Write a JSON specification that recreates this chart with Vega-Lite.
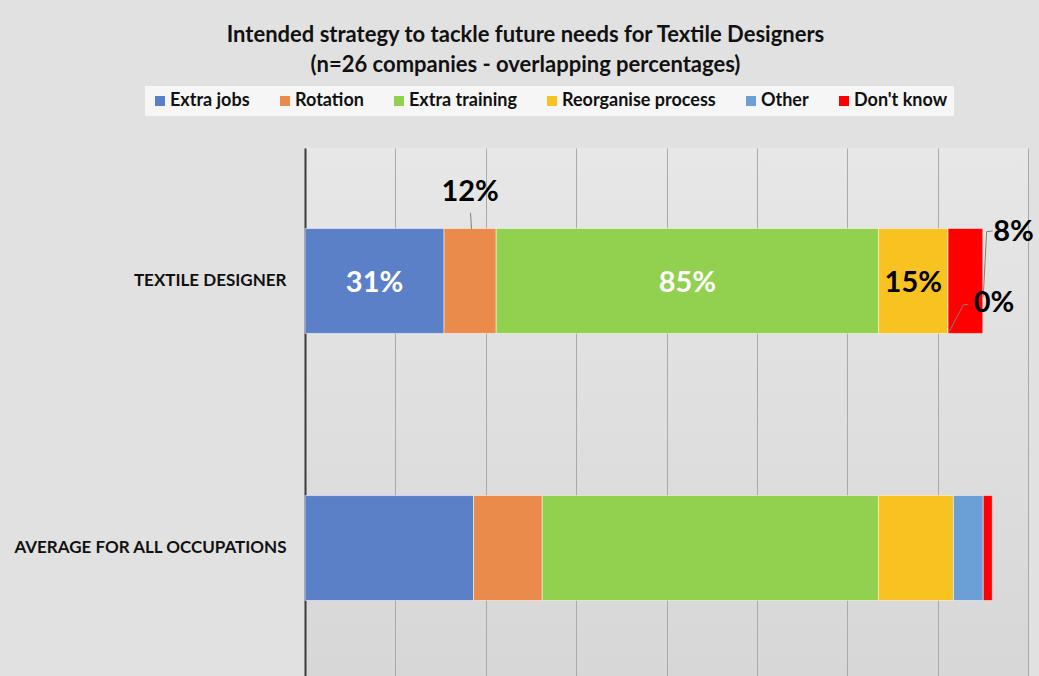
{
  "$schema": "https://vega.github.io/schema/vega-lite/v6.json",
  "width": 723,
  "height": 528,
  "autosize": {"type": "none"},
  "padding": {"left": 305, "top": 148, "right": 11, "bottom": 0},
  "background": "#e1e1e1",
  "config": {
    "view": {
      "stroke": null,
      "fill": {
        "gradient": "linear",
        "x1": 0, "y1": 0, "x2": 0, "y2": 1,
        "stops": [{"offset": 0, "color": "#e7e7e7"}, {"offset": 1, "color": "#d7d7d7"}]
      }
    }
  },
  "title": {
    "text": ["Intended strategy to tackle future needs for Textile Designers", "(n=26 companies - overlapping percentages)"],
    "font": "Lato",
    "fontSize": 22,
    "fontWeight": "bold",
    "color": "#111111",
    "lineHeight": 30,
    "anchor": "middle",
    "dx": -141,
    "offset": 9
  },
  "data": {
    "values": [
      {"occupation": "TEXTILE DESIGNER", "strategy": "Extra jobs", "rank": 1, "value": 0.3077},
      {"occupation": "TEXTILE DESIGNER", "strategy": "Rotation", "rank": 2, "value": 0.1154},
      {"occupation": "TEXTILE DESIGNER", "strategy": "Extra training", "rank": 3, "value": 0.8462},
      {"occupation": "TEXTILE DESIGNER", "strategy": "Reorganise process", "rank": 4, "value": 0.1538},
      {"occupation": "TEXTILE DESIGNER", "strategy": "Other", "rank": 5, "value": 0},
      {"occupation": "TEXTILE DESIGNER", "strategy": "Don't know", "rank": 6, "value": 0.0769},
      {"occupation": "AVERAGE FOR ALL OCCUPATIONS", "strategy": "Extra jobs", "rank": 1, "value": 0.373},
      {"occupation": "AVERAGE FOR ALL OCCUPATIONS", "strategy": "Rotation", "rank": 2, "value": 0.152},
      {"occupation": "AVERAGE FOR ALL OCCUPATIONS", "strategy": "Extra training", "rank": 3, "value": 0.744},
      {"occupation": "AVERAGE FOR ALL OCCUPATIONS", "strategy": "Reorganise process", "rank": 4, "value": 0.166},
      {"occupation": "AVERAGE FOR ALL OCCUPATIONS", "strategy": "Other", "rank": 5, "value": 0.066},
      {"occupation": "AVERAGE FOR ALL OCCUPATIONS", "strategy": "Don't know", "rank": 6, "value": 0.020}
    ]
  },
  "transform": [
    {"stack": "value", "groupby": ["occupation"], "sort": [{"field": "rank", "order": "ascending"}], "as": ["x0", "x1"]}
  ],
  "encoding": {
    "y": {
      "field": "occupation",
      "type": "nominal",
      "sort": ["TEXTILE DESIGNER", "AVERAGE FOR ALL OCCUPATIONS"],
      "scale": {"paddingInner": 0.607, "paddingOuter": 0.292, "align": 0.516},
      "axis": {
        "title": null,
        "ticks": false,
        "domain": true,
        "domainColor": "#3a3a3a",
        "domainWidth": 2,
        "labelFont": "Lato",
        "labelFontSize": 17,
        "labelFontWeight": "bold",
        "labelColor": "#111111",
        "labelPadding": 19,
        "labelLimit": 400
      }
    }
  },
  "layer": [
    {
      "mark": {"type": "bar", "stroke": "#ffffff", "strokeWidth": 1, "strokeOpacity": 0.5},
      "encoding": {
        "x": {
          "field": "x0",
          "type": "quantitative",
          "scale": {"domain": [0, 1.6], "nice": false},
          "axis": {
            "title": null,
            "labels": false,
            "ticks": false,
            "domain": false,
            "grid": true,
            "gridColor": "#a9a9a9",
            "gridWidth": 1,
            "values": [0, 0.2, 0.4, 0.6, 0.8, 1.0, 1.2, 1.4, 1.6]
          }
        },
        "x2": {"field": "x1"},
        "color": {
          "field": "strategy",
          "type": "nominal",
          "sort": ["Extra jobs", "Rotation", "Extra training", "Reorganise process", "Other", "Don't know"],
          "scale": {
            "domain": ["Extra jobs", "Rotation", "Extra training", "Reorganise process", "Other", "Don't know"],
            "range": ["#5b80c8", "#ea8b4c", "#92d050", "#f8c220", "#6aa0d6", "#ff0000"]
          },
          "legend": {
            "title": null,
            "orient": "none",
            "direction": "horizontal",
            "columns": 6,
            "legendX": -160,
            "legendY": -62,
            "fillColor": "#f6f6f6",
            "padding": 6,
            "symbolType": "square",
            "symbolSize": 100,
            "symbolStrokeWidth": 0,
            "labelFont": "Lato",
            "labelFontSize": 18,
            "labelFontWeight": "bold",
            "labelColor": "#111111",
            "labelOffset": 1,
            "columnPadding": 26,
            "labelLimit": 300
          }
        }
      }
    },
    {
      "transform": [
        {"filter": "datum.occupation == 'TEXTILE DESIGNER'"},
        {"fold": ["x0", "x1"], "as": ["edge", "pos"]},
        {"aggregate": [{"op": "mean", "field": "pos", "as": "x0"}], "groupby": ["occupation", "strategy", "value"]}
      ],
      "layer": [
        {
          "transform": [{"filter": "datum.strategy == 'Extra jobs' || datum.strategy == 'Extra training' || datum.strategy == 'Reorganise process'"}],
          "mark": {"type": "text", "font": "Lato", "fontSize": 29, "fontWeight": "bold", "align": "center", "baseline": "middle", "dy": 2},
          "encoding": {
            "x": {"field": "x0", "type": "quantitative", "scale": {"domain": [0, 1.6], "nice": false}},
            "text": {"field": "value", "type": "quantitative", "format": ".0%"},
            "color": {"condition": {"test": "datum.strategy == 'Reorganise process'", "value": "#000000"}, "value": "#ffffff"}
          }
        },
        {
          "transform": [{"filter": "datum.strategy == 'Rotation'"}],
          "mark": {"type": "text", "font": "Lato", "fontSize": 29, "fontWeight": "bold", "align": "center", "baseline": "middle", "dy": -89, "color": "#000000"},
          "encoding": {
            "x": {"field": "x0", "type": "quantitative", "scale": {"domain": [0, 1.6], "nice": false}},
            "text": {"field": "value", "type": "quantitative", "format": ".0%"}
          }
        },
        {
          "transform": [{"filter": "datum.strategy == 'Rotation'"}],
          "mark": {"type": "point", "shape": "M0.008,-1.36L0.028,-1.04", "size": 10000, "filled": false, "stroke": "#7f7f7f", "strokeWidth": 1, "opacity": 1},
          "encoding": {
            "x": {"field": "x0", "type": "quantitative", "scale": {"domain": [0, 1.6], "nice": false}}
          }
        },
        {
          "transform": [{"filter": "datum.strategy == \"Don't know\""}],
          "mark": {"type": "text", "font": "Lato", "fontSize": 29, "fontWeight": "bold", "align": "center", "baseline": "middle", "dx": 48, "dy": -49, "color": "#000000"},
          "encoding": {
            "x": {"field": "x0", "type": "quantitative", "scale": {"domain": [0, 1.6], "nice": false}},
            "text": {"field": "value", "type": "quantitative", "format": ".0%"}
          }
        },
        {
          "transform": [{"filter": "datum.strategy == \"Don't know\""}],
          "mark": {"type": "point", "shape": "M0.356,0.314L0.424,-0.986L0.544,-1.0", "size": 10000, "filled": false, "stroke": "#7f7f7f", "strokeWidth": 1, "opacity": 1},
          "encoding": {
            "x": {"field": "x0", "type": "quantitative", "scale": {"domain": [0, 1.6], "nice": false}}
          }
        },
        {
          "transform": [{"filter": "datum.strategy == 'Other'"}],
          "mark": {"type": "text", "font": "Lato", "fontSize": 29, "fontWeight": "bold", "align": "center", "baseline": "middle", "dx": 46, "dy": 22, "color": "#000000"},
          "encoding": {
            "x": {"field": "x0", "type": "quantitative", "scale": {"domain": [0, 1.6], "nice": false}},
            "text": {"field": "value", "type": "quantitative", "format": ".0%"}
          }
        },
        {
          "transform": [{"filter": "datum.strategy == 'Other'"}],
          "mark": {"type": "point", "shape": "M0.024,1.014L0.304,0.48L0.404,0.466", "size": 10000, "filled": false, "stroke": "#7f7f7f", "strokeWidth": 1, "opacity": 1},
          "encoding": {
            "x": {"field": "x0", "type": "quantitative", "scale": {"domain": [0, 1.6], "nice": false}}
          }
        }
      ]
    }
  ]
}
